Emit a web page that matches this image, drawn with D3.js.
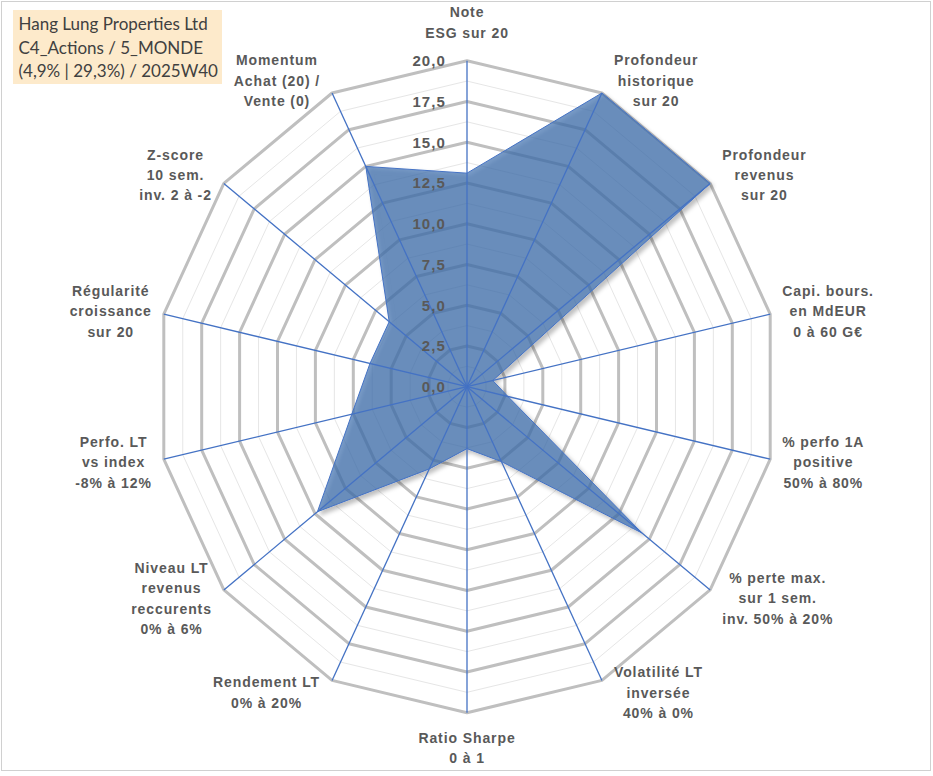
<!DOCTYPE html>
<html>
<head>
<meta charset="utf-8">
<script src="https://cdn.jsdelivr.net/npm/d3@7/dist/d3.min.js"></script>
<style>
  html, body { margin: 0; padding: 0; background: #fff; }
  svg { display: block; }
</style>
</head>
<body>
<svg id="chart" width="933" height="776"></svg>
<script>
// ---------- data ----------
const categories = [
  "Note\nESG sur 20",
  "Profondeur\nhistorique\nsur 20",
  "Profondeur\nrevenus\nsur 20",
  "Capi. bours.\nen MdEUR\n0 à 60 G€",
  "% perfo 1A\npositive\n50% à 80%",
  "% perte max.\nsur 1 sem.\ninv. 50% à 20%",
  "Volatilité LT\ninversée\n40% à 0%",
  "Ratio Sharpe\n0 à 1",
  "Rendement LT\n0% à 20%",
  "Niveau LT\nrevenus\nreccurents\n0% à 6%",
  "Perfo. LT\nvs index\n-8% à 12%",
  "Régularité\ncroissance\nsur 20",
  "Z-score\n10 sem.\ninv. 2 à -2",
  "Momentum\nAchat (20) /\nVente (0)"
];
const values = [13.1, 20, 20, 1.7, 2.7, 14.4, 5.1, 3.8, 5.6, 12.3, 7.6, 6.4, 6.4, 15.0];
const tickValues = [0, 2.5, 5, 7.5, 10, 12.5, 15, 17.5, 20];
const tickLabels = ["0,0", "2,5", "5,0", "7,5", "10,0", "12,5", "15,0", "17,5", "20,0"];
const minorTickValues = [1.25, 3.75, 6.25, 8.75, 11.25, 13.75, 16.25, 18.75];
const titleLines = ["Hang Lung Properties Ltd", "C4_Actions / 5_MONDE", "(4,9% | 29,3%) / 2025W40"];

// ---------- layout ----------
const W = 933, H = 776;
const cx = 467, cy = 386.7;
const Rx = 311, Ry = 326;
const N = categories.length;

const svg = d3.select("#chart");

const rX = d3.scaleLinear().domain([0, 20]).range([0, Rx]);
const rY = d3.scaleLinear().domain([0, 20]).range([0, Ry]);
const angle = d3.scaleLinear().domain([0, N]).range([0, 2 * Math.PI]);

const px = (i, v) => cx + rX(v) * Math.sin(angle(i));
const py = (i, v) => cy - rY(v) * Math.cos(angle(i));

const line = d3.line().x(d => px(d.i, d.v)).y(d => py(d.i, d.v)).curve(d3.curveLinearClosed);
const ringPts = v => d3.range(N).map(i => ({ i, v }));

// defs: shadow
const defs = svg.append("defs");
const f = defs.append("filter").attr("id", "shadow")
  .attr("x", "-10%").attr("y", "-10%").attr("width", "130%").attr("height", "130%");
f.append("feDropShadow").attr("dx", 3).attr("dy", 3).attr("stdDeviation", 2.2)
  .attr("flood-color", "#000").attr("flood-opacity", 0.35);

// background + border
svg.append("rect").attr("x", 1.5).attr("y", 1.5).attr("width", W - 4).attr("height", H - 7)
  .attr("fill", "#fff").attr("stroke", "#d0d0d0").attr("stroke-width", 1);

// minor rings
svg.append("g").selectAll("path").data(minorTickValues).join("path")
  .attr("d", v => line(ringPts(v)))
  .attr("fill", "none").attr("stroke", "#e6e6e6").attr("stroke-width", 1);

// major rings
svg.append("g").selectAll("path").data(tickValues.filter(v => v > 0)).join("path")
  .attr("d", v => line(ringPts(v)))
  .attr("fill", "none").attr("stroke", "#bfbfbf").attr("stroke-width", 3)
  .attr("stroke-linejoin", "round");

// data polygon
svg.append("path")
  .attr("d", line(values.map((v, i) => ({ i, v }))))
  .attr("fill", "#3f6fae").attr("fill-opacity", 0.7)
  .attr("stroke", "#4472c4").attr("stroke-width", 1)
  .attr("filter", "url(#shadow)");

// spokes
svg.append("g").selectAll("line").data(d3.range(N)).join("line")
  .attr("x1", cx).attr("y1", cy)
  .attr("x2", i => px(i, 20)).attr("y2", i => py(i, 20))
  .attr("stroke", "#4472c4").attr("stroke-width", 1.3);

// tick labels
svg.append("g").selectAll("text").data(tickValues).join("text")
  .attr("x", cx - 21).attr("y", v => py(0, v))
  .attr("text-anchor", "end").attr("dominant-baseline", "central")
  .attr("font-family", "'Liberation Sans', Arial, sans-serif")
  .attr("font-weight", "bold").attr("font-size", 15).attr("letter-spacing", 1.1)
  .attr("fill", "#595959")
  .text((v, k) => tickLabels[k]);

// category labels
const lineH = 20.4;
const labG = svg.append("g")
  .attr("font-family", "'Liberation Sans', Arial, sans-serif")
  .attr("font-weight", "bold").attr("font-size", 14).attr("letter-spacing", 0.9)
  .attr("fill", "#595959");

categories.forEach((cat, i) => {
  const lines = cat.split("\n");
  const a = angle(i);
  const s = Math.sin(a), c = Math.cos(a);
  const ex = px(i, 20), ey = py(i, 20);
  const t = labG.append("text").attr("text-anchor", "middle");
  lines.forEach((l, k) => {
    t.append("tspan").attr("x", 0).attr("y", k * lineH).attr("dominant-baseline", "central").text(l);
  });
  const bb = t.node().getBBox();
  const w = bb.width;
  const h = (lines.length - 1) * lineH;
  let lx, ly;
  if (Math.abs(s) < 0.01) {
    lx = ex;
    ly = c > 0 ? ey - 28 - h : ey + 25;
  } else {
    lx = ex + Math.sign(s) * (w / 2 + 12);
    ly = ey - c * 13.5 - h / 2;
  }
  t.attr("transform", `translate(${lx},${ly})`);
});

// title box
const tg = svg.append("g");
tg.append("rect").attr("x", 13).attr("y", 10).attr("width", 209).attr("height", 74)
  .attr("fill", "#fdeacb");
tg.selectAll("text").data(titleLines).join("text")
  .attr("x", 18.5).attr("y", (d, k) => 30 + k * 23.7)
  .attr("font-family", "Lato, 'Open Sans', sans-serif")
  .attr("font-size", 17).attr("fill", "#404040")
  .text(d => d);
</script>
</body>
</html>
